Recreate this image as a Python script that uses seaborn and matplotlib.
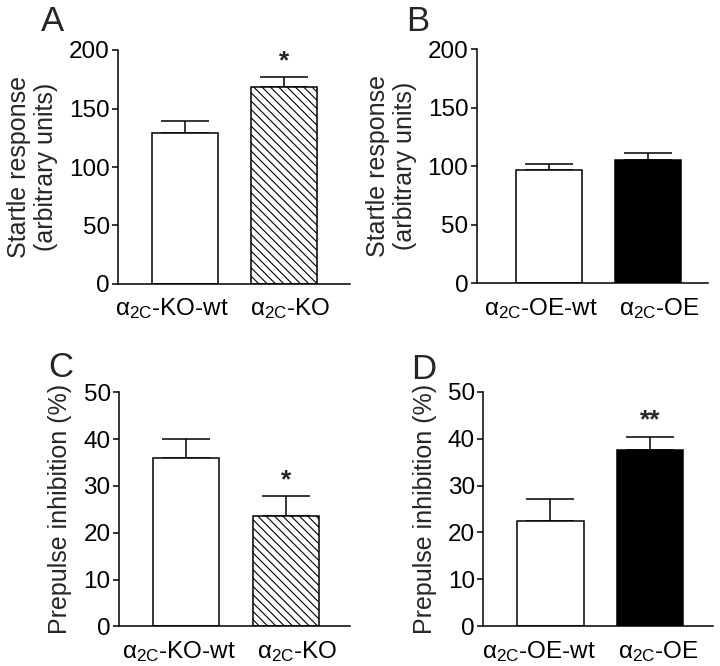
import matplotlib
matplotlib.use("Agg")
import matplotlib.pyplot as plt
import matplotlib.transforms as mtransforms
import seaborn as sns
import numpy as np
import pandas as pd

sns.set_style("ticks")
plt.rcParams['font.family'] = ['Liberation Sans', 'DejaVu Sans']
plt.rcParams['mathtext.fontset'] = 'custom'
plt.rcParams['mathtext.rm'] = 'Liberation Sans'
plt.rcParams['mathtext.it'] = 'Liberation Sans'
plt.rcParams['hatch.linewidth'] = 0.8

# ---- data ----
ko_labels = [r'$\mathregular{\alpha_{2C}}$-KO-wt', r'$\mathregular{\alpha_{2C}}$-KO']
oe_labels = [r'$\mathregular{\alpha_{2C}}$-OE-wt', r'$\mathregular{\alpha_{2C}}$-OE']

startle_ko = [129.0, 168.0]
startle_ko_err = [10.5, 8.8]
startle_oe = [97.0, 105.0]
startle_oe_err = [4.6, 6.3]

ppi_ko = [36.0, 23.5]
ppi_ko_err = [4.1, 4.3]
ppi_oe = [22.4, 37.5]
ppi_oe_err = [4.7, 2.9]

sig_ko_startle = ['', '*']
sig_oe_startle = ['', '']
sig_ko_ppi = ['', '*']
sig_oe_ppi = ['', '**']

startle_ticks = [0, 50, 100, 150, 200]
ppi_ticks = [0, 10, 20, 30, 40, 50]

fig = plt.figure(figsize=(7.2, 6.66), dpi=100)

W, H = 720, 666

def px_axes(left, right, bottom, top):
    return fig.add_axes([left / W, 1 - bottom / H, (right - left) / W, (bottom - top) / H])

panels = [
    dict(pos=(118, 350, 284, 50), xlim=(-0.677, 1.667), labels=ko_labels, vals=startle_ko,
         errs=startle_ko_err, sig=sig_ko_startle, ticks=startle_ticks, shifts=(-13, 6),
         ylabel='Startle response\n(arbitrary units)', style='hatch', letter='A', lxy=(41, 31)),
    dict(pos=(476.7, 708, 283.3, 49.3), xlim=(-0.725, 1.6), labels=oe_labels, vals=startle_oe,
         errs=startle_oe_err, sig=sig_oe_startle, ticks=startle_ticks, shifts=(-8, 11),
         ylabel='Startle response\n(arbitrary units)', style='black', letter='B', lxy=(406, 31)),
    dict(pos=(119, 350, 626.3, 392.3), xlim=(-0.67, 1.64), labels=ko_labels, vals=ppi_ko,
         errs=ppi_ko_err, sig=sig_ko_ppi, ticks=ppi_ticks, shifts=(-7, 11),
         ylabel='Prepulse inhibition (%)', style='hatch', letter='C', lxy=(48, 377)),
    dict(pos=(483.3, 713, 626.3, 391.7), xlim=(-0.672, 1.63), labels=oe_labels, vals=ppi_oe,
         errs=ppi_oe_err, sig=sig_oe_ppi, ticks=ppi_ticks, shifts=(-11, 8),
         ylabel='Prepulse inhibition (%)', style='black', letter='D', lxy=(411, 379)),
]

for p in panels:
    ax = px_axes(*p['pos'])
    df = pd.DataFrame({'group': p['labels'], 'value': p['vals']})
    sns.barplot(data=df, x='group', y='value', ax=ax, width=0.665, errorbar=None,
                color='white', edgecolor='black', linewidth=1.1, zorder=2)
    bars = ax.patches
    if p['style'] == 'hatch':
        bars[1].set_hatch('\\\\\\\\')
        bars[1].set_facecolor('white')
    else:
        bars[1].set_facecolor('black')
    x = np.arange(len(p['vals']))
    ax.errorbar(x, p['vals'], yerr=[np.zeros(len(p['vals'])), p['errs']], fmt='none',
                ecolor='black', elinewidth=1.1, capsize=17, capthick=1.1, zorder=1)
    for xi, (v, e, s) in enumerate(zip(p['vals'], p['errs'], p['sig'])):
        if s:
            ax.annotate(s, (xi, v + e), xytext=(0, 3), textcoords='offset points',
                        ha='center', va='bottom', fontsize=19, fontweight='bold')
    ax.set_xlim(*p['xlim'])
    ax.set_ylim(p['ticks'][0], p['ticks'][-1])
    ax.set_yticks(p['ticks'])
    ax.tick_params(axis='y', labelsize=17.5, length=4, width=1.1, pad=2, colors='black')
    ax.tick_params(axis='x', labelsize=17.5, length=0, pad=9, colors='black')
    for lab, dx in zip(ax.get_xticklabels(), p['shifts']):
        lab.set_transform(lab.get_transform() +
                          mtransforms.ScaledTranslation(dx / 100, 0, fig.dpi_scale_trans))
    ax.set_xlabel('')
    ax.set_ylabel(p['ylabel'], fontsize=18, labelpad=8, linespacing=1.15)
    sns.despine(ax=ax)
    for sp in ['left', 'bottom']:
        ax.spines[sp].set_linewidth(1.1)
        ax.spines[sp].set_color('black')
    fig.text(p['lxy'][0] / W, 1 - p['lxy'][1] / H, p['letter'], fontsize=25,
             ha='left', va='baseline')

fig.savefig('out.png', dpi=100, facecolor='white')
